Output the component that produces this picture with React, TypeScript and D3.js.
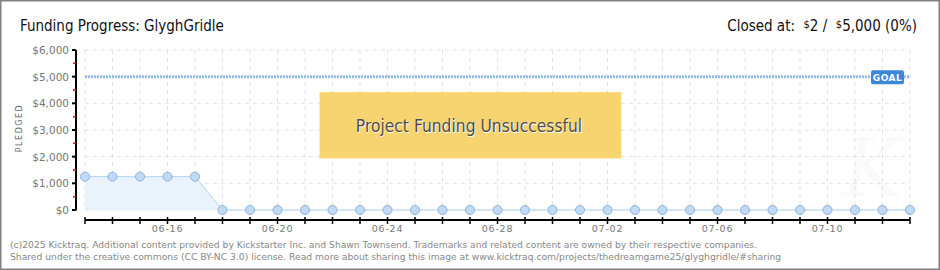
import React from "react";
import * as d3 from "d3";

const title = "Funding Progress: GlyghGridle";
const statusLabel = "Closed at:";
const statusPledged = "2";
const statusGoal = "5,000";
const statusPct = "(0%)";
const goal = 5000;
const startDate = "2025-06-13";
const pledged = [1250, 1250, 1250, 1250, 1250, 0, 0, 0, 0, 0, 0, 0, 0, 0, 0, 0, 0, 0, 0, 0, 0, 0, 0, 0, 0, 0, 0, 0, 0, 0, 2];
const yTicks = [0, 1000, 2000, 3000, 4000, 5000, 6000];
const xTickLabels = ["06-16", "06-20", "06-24", "06-28", "07-02", "07-06", "07-10"];
const banner = "Project Funding Unsuccessful";
const footer = [
  "(c)2025 Kicktraq. Additional content provided by Kickstarter Inc. and Shawn Townsend. Trademarks and related content are owned by their respective companies.",
  "Shared under the creative commons (CC BY-NC 3.0) license. Read more about sharing this image at www.kicktraq.com/projects/thedreamgame25/glyghgridle/#sharing",
];

const W = 940, H = 270;
const uiFont = "'DejaVu Sans Condensed', 'DejaVu Sans', sans-serif";
const smallFont = "'DejaVu Sans', Verdana, sans-serif";

export default function App() {
  const parse = d3.timeParse("%Y-%m-%d");
  const d0 = parse(startDate) as Date;
  const data = pledged.map((v, i) => ({ date: d3.timeDay.offset(d0, i), value: v }));
  const x = d3.scaleTime().domain([data[0].date, data[data.length - 1].date]).range([85, 910]);
  const y = d3.scaleLinear().domain([0, 6000]).range([210, 50]);
  const days = data.map((d) => d.date);
  const fmt = d3.timeFormat("%m-%d");
  const minorTicks = d3.range(500, 6000, 1000);

  const area = d3.area<{ date: Date; value: number }>().x((d) => x(d.date)).y0(y(0)).y1((d) => y(d.value));
  const line = d3.line<{ date: Date; value: number }>().x((d) => x(d.date)).y((d) => y(d.value));

  return (
    <svg width={W} height={H} style={{ position: "fixed", left: 0, top: 0, background: "#fff" }}>
      <rect x={0.5} y={0.5} width={W - 1} height={H - 1} fill="#fff" stroke="#808080" strokeWidth={2} />
      <text x={20} y={31} fontFamily={uiFont} fontSize={15} fill="#111">{title}</text>
      <text x={917} y={31} fontFamily={uiFont} fontSize={15} fill="#111" textAnchor="end" style={{ whiteSpace: "pre" }}>
        {statusLabel + "\u00a0\u00a0"}
        <tspan fontSize={11} dy={-3}>$</tspan>
        <tspan dy={3}>{statusPledged + "\u00a0/\u00a0\u00a0"}</tspan>
        <tspan fontSize={11} dy={-3}>$</tspan>
        <tspan dy={3}>{statusGoal + "\u00a0" + statusPct}</tspan>
      </text>

      {/* watermark */}
      <text x={872} y={196} fontFamily="'DejaVu Serif', serif" fontStyle="italic" fontSize={80} fill="#fafafa" textAnchor="middle">K</text>

      {/* grid */}
      {days.map((d, i) => (
        <line key={"gv" + i} x1={x(d)} x2={x(d)} y1={y(6000)} y2={y(0)} stroke="#e2e2e2" strokeDasharray="4,4" />
      ))}
      {yTicks.map((t) => (
        <line key={"gh" + t} x1={85} x2={910} y1={y(t)} y2={y(t)} stroke="#e2e2e2" strokeDasharray="4,4" />
      ))}

      {/* area + line */}
      <path d={area(data) || ""} fill="#eaf2fc" />
      <path d={line(data) || ""} fill="none" stroke="#b1d2f2" strokeWidth={1} />

      {/* goal line */}
      <line x1={85} x2={910} y1={y(goal)} y2={y(goal)} stroke="#98bbe6" strokeWidth={3} strokeDasharray="2,1" />
      <rect x={871} y={y(goal) - 6.5} width={33} height={14} rx={2} fill="#3d87d8" />
      <text x={887.5} y={y(goal) + 4} fontFamily={smallFont} fontSize={9} fontWeight="bold" fill="#fff" textAnchor="middle" letterSpacing={0.5}>GOAL</text>

      {/* points */}
      {data.map((d, i) => (
        <circle key={"p" + i} cx={x(d.date)} cy={y(d.value)} r={4.5} fill="#c0dbf7" stroke="#8eb0d8" strokeWidth={1} />
      ))}

      {/* y axis */}
      <line x1={76} x2={76} y1={y(6000)} y2={y(0) + 0.5} stroke="#000" strokeWidth={2} />
      {yTicks.map((t) => (
        <g key={"yt" + t}>
          <line x1={72} x2={76} y1={y(t)} y2={y(t)} stroke="#000" strokeWidth={2} />
          <text x={69} y={y(t) + 4} fontFamily={smallFont} fontSize={10.5} fill="#777" textAnchor="end">
            {d3.format("$,")(t)}
          </text>
        </g>
      ))}
      {minorTicks.map((t) => (
        <line key={"ym" + t} x1={73} x2={76} y1={y(t)} y2={y(t)} stroke="#e00" strokeWidth={1.5} />
      ))}
      <text transform={`translate(22,${y(3000) - 2}) rotate(-90)`} fontFamily={smallFont} fontSize={8} fill="#666" textAnchor="middle" letterSpacing={1.5}>PLEDGED</text>

      {/* x axis */}
      <line x1={85} x2={910} y1={220} y2={220} stroke="#000" strokeWidth={2} />
      {days.map((d, i) => (
        <line key={"xt" + i} x1={x(d)} x2={x(d)} y1={217} y2={224} stroke="#000" strokeWidth={1.5} />
      ))}
      {days.filter((d) => xTickLabels.includes(fmt(d))).map((d, i) => (
        <text key={"xl" + i} x={x(d)} y={232} fontFamily={smallFont} fontSize={9.5} fill="#777" textAnchor="middle" letterSpacing={0.8}>
          {fmt(d)}
        </text>
      ))}

      {/* banner */}
      <rect x={320} y={92.5} width={301} height={65.5} fill="#f7d46f" stroke="#f6dc80" strokeWidth={1} />
      <text x={469} y={132} fontFamily={uiFont} fontSize={17.3} fill="#fff" textAnchor="middle" dx={0.8} dy={0.8}>{banner}</text>
      <text x={469} y={132} fontFamily={uiFont} fontSize={17.3} fill="#4d4d4d" textAnchor="middle">{banner}</text>

      {/* footer */}
      {footer.map((f, i) => (
        <text key={"f" + i} x={10} y={247.5 + i * 12} fontFamily={smallFont} fontSize={9.2} fill="#888">{f}</text>
      ))}
    </svg>
  );
}
